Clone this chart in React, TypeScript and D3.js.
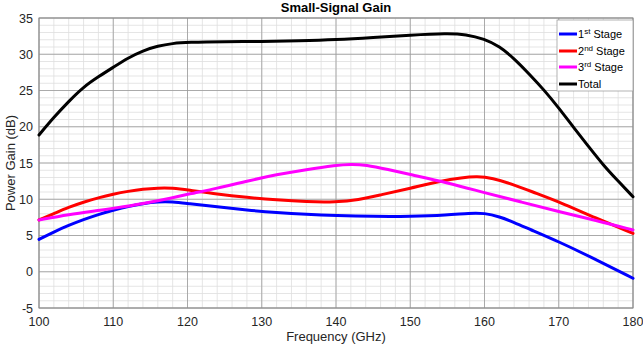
import React from "react";
import * as d3 from "d3";

const freqTotal = [100, 102, 104, 106, 108, 110, 112, 114, 116, 118, 120, 125, 130, 135, 140, 145, 150, 155, 157.5, 160, 162, 164, 166, 168, 170, 172, 174, 176, 178, 180];
const gainTotal = [18.86, 21.3, 23.5, 25.5, 26.9, 28.2, 29.5, 30.5, 31.15, 31.5, 31.65, 31.75, 31.75, 31.85, 32.0, 32.3, 32.65, 32.9, 32.75, 32.1, 31.1, 29.4, 27.3, 25.1, 22.6, 19.9, 17.3, 14.7, 12.5, 10.35];

const freqStage1 = [100, 102, 104, 106, 108, 110, 112, 114, 116, 118, 120, 124, 128, 132, 136, 140, 145, 150, 155, 158, 160, 162, 164, 166, 170, 175, 180];
const gainStage1 = [4.47, 5.5, 6.4, 7.2, 7.9, 8.5, 9.0, 9.4, 9.65, 9.65, 9.4, 8.95, 8.5, 8.15, 7.9, 7.74, 7.62, 7.62, 7.8, 8.1, 8.1, 7.6, 6.8, 5.9, 4.15, 1.7, -0.9];

const freqStage2 = [100, 102, 104, 106, 108, 110, 112, 114, 116, 118, 120, 124, 128, 132, 136, 140, 143, 146, 150, 154, 157, 159, 161, 164, 167, 170, 175, 180];
const gainStage2 = [7.14, 8.0, 8.9, 9.6, 10.2, 10.7, 11.1, 11.4, 11.55, 11.55, 11.3, 10.7, 10.25, 9.9, 9.65, 9.6, 9.9, 10.6, 11.5, 12.5, 13.0, 13.15, 12.95, 12.0, 10.8, 9.66, 7.4, 5.3];

const freqStage3 = [100, 104, 108, 110, 114, 118, 120, 124, 128, 132, 136, 140, 142, 144, 147, 150, 155, 160, 165, 170, 175, 180];
const gainStage3 = [7.14, 7.9, 8.45, 8.75, 9.4, 10.2, 10.7, 11.5, 12.5, 13.4, 14.1, 14.7, 14.85, 14.75, 14.1, 13.4, 12.3, 10.9, 9.6, 8.3, 7.1, 5.76];

const xTicks = [100, 110, 120, 130, 140, 150, 160, 170, 180];
const yTicks = [-5, 0, 5, 10, 15, 20, 25, 30, 35];

const seriesNames = ["1st Stage", "2nd Stage", "3rd Stage", "Total"];
const seriesColors = ["#0000ff", "#ff0000", "#ff00ff", "#000000"];

export default function App() {
  const W = 643, H = 352;
  const left = 39, right = 633, top = 18, bottom = 308;
  const x = d3.scaleLinear().domain([100, 180]).range([left, right]);
  const y = d3.scaleLinear().domain([-5, 35]).range([bottom, top]);

  const series = [
    { f: freqStage1, g: gainStage1 },
    { f: freqStage2, g: gainStage2 },
    { f: freqStage3, g: gainStage3 },
    { f: freqTotal, g: gainTotal },
  ];

  const line = d3
    .line<[number, number]>()
    .x((d) => x(d[0]))
    .y((d) => y(d[1]))
    .curve(d3.curveBasis);

  const minorX = d3.range(100, 180.01, 2);
  const minorY = d3.range(-5, 35.01, 1);

  const font = "Arial, 'Liberation Sans', sans-serif";
  const sup = ["st", "nd", "rd"];
  const legendX = 557, legendY = 20, legendW = 76, legendH = 71;
  const rowY = [34, 51, 67, 84];

  return (
    <svg width={W} height={H} style={{ position: "absolute", left: 0, top: 0 }} fontFamily={font}>
      <rect x={0} y={0} width={W} height={H} fill="#fff" />
      <rect x={left} y={top} width={right - left} height={bottom - top} fill="#fff" />
      {minorX.map((v) => (
        <line key={"mx" + v} x1={x(v)} x2={x(v)} y1={top} y2={bottom} stroke="#dedede" strokeWidth={0.8} />
      ))}
      {minorY.map((v) => (
        <line key={"my" + v} x1={left} x2={right} y1={y(v)} y2={y(v)} stroke="#dedede" strokeWidth={0.8} />
      ))}
      {xTicks.map((v) => (
        <line key={"gx" + v} x1={x(v)} x2={x(v)} y1={top} y2={bottom} stroke="#9a9a9a" strokeWidth={0.8} />
      ))}
      {yTicks.map((v) => (
        <line key={"gy" + v} x1={left} x2={right} y1={y(v)} y2={y(v)} stroke="#9a9a9a" strokeWidth={0.8} />
      ))}
      <rect x={left} y={top} width={right - left} height={bottom - top} fill="none" stroke="#8a8a8a" strokeWidth={1} />

      {series.map((s, i) => (
        <path
          key={"s" + i}
          d={line(s.f.map((f, j) => [f, s.g[j]] as [number, number])) || ""}
          fill="none"
          stroke={seriesColors[i]}
          strokeWidth={3}
          strokeLinejoin="round"
          strokeLinecap="round"
        />
      ))}

      {xTicks.map((v) => (
        <text key={"tx" + v} x={x(v)} y={326} fontSize={12.5} textAnchor="middle" fill="#262626">
          {v}
        </text>
      ))}
      {yTicks.map((v) => (
        <text key={"ty" + v} x={33} y={y(v) + 4.5} fontSize={12.5} textAnchor="end" fill="#262626">
          {v}
        </text>
      ))}

      <text x={336} y={11.5} fontSize={13} fontWeight="bold" textAnchor="middle" fill="#000">
        Small-Signal Gain
      </text>
      <text x={336} y={341} fontSize={13} textAnchor="middle" fill="#262626">
        Frequency (GHz)
      </text>
      <text
        transform={`translate(15, ${(top + bottom) / 2}) rotate(-90)`}
        fontSize={13}
        textAnchor="middle"
        fill="#262626"
      >
        Power Gain (dB)
      </text>

      <rect x={legendX} y={legendY} width={legendW} height={legendH} fill="#fff" stroke="#a0a0a0" strokeWidth={0.8} />
      {seriesNames.map((n, i) => (
        <g key={"lg" + i}>
          <line x1={559} x2={577} y1={rowY[i]} y2={rowY[i]} stroke={seriesColors[i]} strokeWidth={3} />
          {i < 3 ? (
            <text x={578} y={rowY[i] + 4} fontSize={11} fill="#000">
              {String(i + 1)}
              <tspan fontSize={8} dy={-4}>{sup[i]}</tspan>
              <tspan dy={4}>{" Stage"}</tspan>
            </text>
          ) : (
            <text x={578} y={rowY[i] + 4} fontSize={11} fill="#000">
              Total
            </text>
          )}
        </g>
      ))}
    </svg>
  );
}
